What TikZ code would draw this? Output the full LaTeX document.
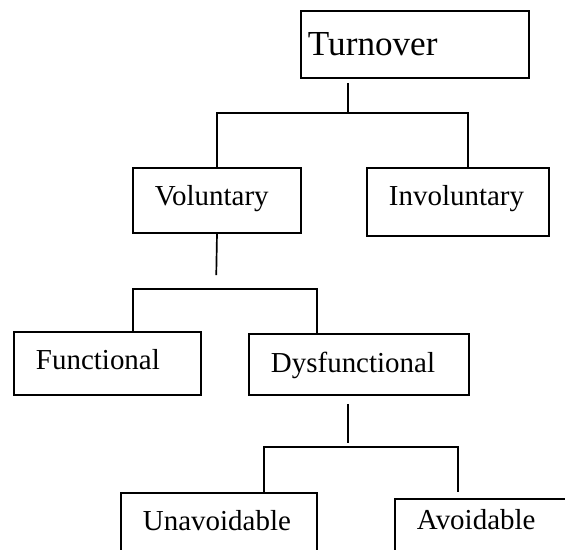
\documentclass[tikz,border=0pt]{standalone}
\usepackage{fontspec}
\setmainfont{Liberation Serif}
\usepackage{tikz}

\begin{document}
\begin{tikzpicture}[
        box/.style={draw, line width=1.4pt, anchor=north west, align=left,
            inner xsep=0.55cm, inner ysep=0pt, font=\fontsize{20.6}{24}\selectfont},
        link/.style={line width=1.2pt}
    ]
        \useasboundingbox (0, 0) rectangle (14.125, -13.725);
        \clip (0, 0) rectangle (14.125, -13.725);

        \node[box, inner xsep=0.175cm, text width=5.35cm, text height=1.125cm, text depth=0.55cm,
            font=\fontsize{25}{30}\selectfont] (turnover) at (7.5, -0.25) {Turnover};

        \node[box, text width=3.1cm, text height=0.95cm, text depth=0.675cm] (voluntary) at (3.3, -4.175) {Voluntary};
        \node[box, text width=3.45cm, text height=0.95cm, text depth=0.75cm] (involuntary) at (9.15, -4.175) {Involuntary};

        \node[box, text width=3.575cm, text height=0.95cm, text depth=0.625cm] (functional) at (0.325, -8.275) {Functional};
        \node[box, text width=4.4cm, text height=0.975cm, text depth=0.55cm] (dysfunctional) at (6.2, -8.325) {Dysfunctional};

        \node[box, text width=3.8cm, text height=0.925cm, text depth=1.5cm] (unavoidable) at (3.0, -12.3) {Unavoidable};
        \node[box, text width=4.05cm, text height=0.75cm, text depth=1.2cm] (avoidable) at (9.85, -12.45) {Avoidable};

        \coordinate (jturn) at (8.7, -2.825);
        \coordinate (jvol) at (5.4, -7.225);
        \coordinate (jdys) at (8.7, -11.175);

        \draw[link, shorten <=0.1cm] (turnover.south -| jturn) -- (jturn);
        \draw[link] (voluntary.north) |- (jturn) -| ([xshift=0.25cm]involuntary.north);

        \draw[link, shorten >=0.35cm] (voluntary.south) -- (jvol);
        \draw[link] ([xshift=0.6375cm]functional.north) |- (jvol) -| ([xshift=-1.05cm]dysfunctional.north);

        \draw[link, shorten <=0.2cm, shorten >=0.1cm] (dysfunctional.south -| jdys) -- (jdys);
        \draw[link, shorten >=0.15cm] ([xshift=1.125cm]unavoidable.north) |- (jdys) -| ([xshift=-1cm]avoidable.north);

    \end{tikzpicture}
\end{document}
